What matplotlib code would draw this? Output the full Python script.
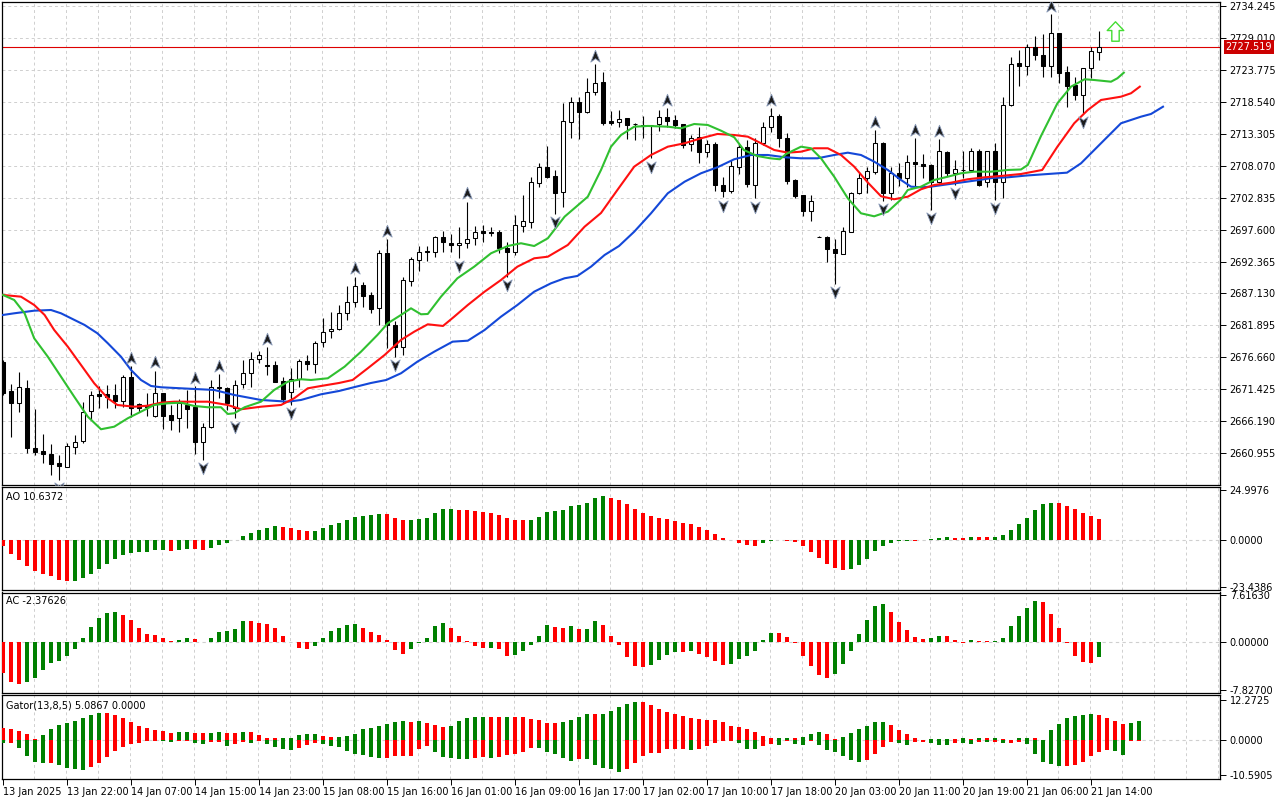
import matplotlib
matplotlib.use('Agg')
import matplotlib.pyplot as plt
import matplotlib.transforms as mtransforms
from matplotlib.path import Path
import numpy as np

plt.rcParams['font.family'] = ['DejaVu Sans']
plt.rcParams['font.size'] = 7

# H1 candles, 13 Jan 2025 .. 21 Jan 2025
opens = [2675.97, 2671.18, 2669.17, 2671.72, 2661.9, 2661.36, 2660.85, 2659.4, 2658.8, 2661.96,
         2663.05, 2667.96, 2670.64, 2670.7, 2670.5, 2669.6, 2673.5, 2669.0, 2668.8, 2667.1,
         2670.8, 2667.25, 2666.7, 2668.9, 2668.6, 2662.9, 2665.24, 2671.8, 2671.6, 2668.35,
         2672.3, 2674.2, 2676.37, 2675.45, 2675.4, 2672.8, 2670.97, 2673.15, 2676.1, 2675.55,
         2679.15, 2680.99, 2681.27, 2683.9, 2685.8, 2688.5, 2686.9, 2684.7, 2693.7, 2681.97,
         2678.4, 2689.2, 2692.6, 2694.13, 2693.97, 2696.3, 2695.44, 2695.07, 2695.34, 2696.15,
         2697.35, 2697.2, 2697.2, 2694.5, 2693.97, 2698.2, 2698.88, 2705.26, 2707.76, 2706.35,
         2703.7, 2715.24, 2718.46, 2716.87, 2720.14, 2721.78, 2715.35, 2715.24, 2715.8, 2714.86,
         2714.6, 2714.7, 2714.86, 2715.95, 2715.5, 2714.86, 2711.54, 2712.68, 2710.33, 2711.59,
         2704.83, 2703.95, 2707.88, 2711.05, 2704.88, 2711.7, 2714.3, 2716.17, 2712.52, 2705.7,
         2703.25, 2700.68, 2696.45, 2696.42, 2694.4, 2693.6, 2697.24, 2703.51, 2705.98, 2707.05,
         2711.8, 2703.51, 2706.9, 2705.98, 2708.7, 2708.32, 2708.15, 2705.42, 2710.33, 2706.9,
         2707.33, 2707.33, 2710.49, 2705.42, 2710.44, 2705.42, 2717.92, 2724.79, 2724.35, 2727.41,
         2726.1, 2724.35, 2729.7, 2723.42, 2721.24, 2719.6, 2723.97, 2726.69]
highs = [2676.3, 2672.28, 2674.3, 2672.98, 2668.2, 2664.1, 2662.5, 2660.7, 2662.6, 2664.0,
         2669.4, 2671.2, 2672.0, 2672.1, 2672.3, 2673.8, 2675.2, 2669.2, 2670.9, 2674.5,
         2670.85, 2668.9, 2669.8, 2671.3, 2672.0, 2665.9, 2672.9, 2673.95, 2671.8, 2672.95,
         2676.25, 2677.6, 2677.8, 2678.3, 2676.1, 2673.5, 2674.9, 2676.4, 2677.0, 2679.4,
         2683.2, 2684.16, 2685.25, 2688.4, 2689.9, 2689.05, 2687.45, 2694.25, 2695.99, 2682.6,
         2689.8, 2693.05, 2694.9, 2694.95, 2696.5, 2697.35, 2696.8, 2698.06, 2702.15, 2698.17,
         2698.34, 2698.06, 2697.5, 2695.6, 2699.97, 2703.25, 2706.2, 2708.4, 2711.26, 2707.3,
         2718.25, 2719.33, 2719.33, 2722.34, 2724.63, 2723.3, 2717.0, 2717.15, 2715.8, 2715.07,
         2716.2, 2714.75, 2717.15, 2717.43, 2716.33, 2714.9, 2713.06, 2714.4, 2712.24, 2711.96,
         2706.14, 2708.97, 2711.59, 2712.24, 2712.52, 2715.14, 2717.43, 2716.5, 2713.43, 2705.8,
         2703.25, 2703.25, 2696.5, 2696.53, 2695.99, 2697.96, 2703.78, 2706.8, 2707.78, 2713.88,
         2711.96, 2707.78, 2708.43, 2709.79, 2712.52, 2709.95, 2708.32, 2712.35, 2710.44, 2708.97,
         2710.44, 2710.88, 2710.72, 2710.44, 2711.7, 2719.33, 2725.87, 2726.97, 2727.9, 2729.26,
         2729.53, 2732.81, 2729.7, 2724.35, 2722.6, 2723.97, 2727.41, 2730.07]
lows = [2670.5, 2663.71, 2667.75, 2661.0, 2660.7, 2659.35, 2657.4, 2656.6, 2658.7, 2660.8,
        2662.6, 2666.4, 2668.4, 2668.35, 2668.4, 2668.6, 2666.97, 2667.8, 2667.1, 2666.97,
        2664.9, 2664.8, 2664.5, 2665.1, 2660.9, 2659.9, 2665.1, 2670.0, 2668.1, 2666.7,
        2671.6, 2671.8, 2675.7, 2673.8, 2672.6, 2669.17, 2668.9, 2671.9, 2674.6, 2674.1,
        2678.4, 2679.8, 2681.2, 2682.8, 2684.9, 2684.97, 2684.0, 2681.97, 2678.17, 2676.8,
        2677.05, 2688.4, 2690.85, 2692.5, 2693.15, 2693.87, 2693.87, 2692.9, 2694.5, 2695.07,
        2695.6, 2696.5, 2693.7, 2689.9, 2693.4, 2697.14, 2697.8, 2704.6, 2705.97, 2700.1,
        2701.2, 2712.52, 2712.4, 2716.6, 2719.6, 2714.7, 2714.7, 2714.3, 2712.35, 2712.24,
        2712.5, 2709.25, 2713.76, 2714.4, 2714.16, 2710.88, 2710.5, 2708.53, 2709.4, 2703.95,
        2702.87, 2703.62, 2706.68, 2704.5, 2702.7, 2711.43, 2713.5, 2711.15, 2705.03, 2702.7,
        2699.86, 2698.99, 2696.3, 2692.33, 2688.68, 2693.6, 2697.24, 2703.4, 2703.51, 2706.68,
        2702.3, 2702.5, 2704.72, 2704.6, 2704.6, 2705.98, 2700.79, 2705.15, 2706.35, 2704.88,
        2705.98, 2707.05, 2704.77, 2704.6, 2702.43, 2702.7, 2717.8, 2721.08, 2722.9, 2725.33,
        2722.6, 2722.6, 2721.52, 2717.7, 2718.8, 2716.6, 2722.34, 2725.33]
closes = [2670.85, 2669.17, 2671.8, 2661.8, 2661.25, 2660.8, 2659.2, 2658.9, 2662.2, 2662.78,
          2667.7, 2670.5, 2670.4, 2670.25, 2669.6, 2673.4, 2668.35, 2668.45, 2668.5, 2670.8,
          2667.1, 2666.45, 2669.17, 2668.2, 2662.9, 2665.35, 2671.8, 2671.6, 2669.17, 2672.15,
          2674.2, 2676.37, 2677.0, 2675.35, 2672.7, 2669.9, 2673.15, 2676.1, 2675.55, 2679.1,
          2680.78, 2681.3, 2683.9, 2685.8, 2688.4, 2686.8, 2684.55, 2693.7, 2681.97, 2678.4,
          2689.35, 2692.77, 2693.87, 2693.87, 2696.3, 2695.5, 2695.07, 2695.44, 2696.05, 2697.24,
          2696.98, 2696.98, 2694.5, 2693.97, 2698.34, 2698.99, 2705.3, 2707.76, 2706.24, 2703.6,
          2715.35, 2718.41, 2716.77, 2720.14, 2721.62, 2715.07, 2715.07, 2715.73, 2714.7, 2714.8,
          2714.62, 2714.65, 2715.95, 2715.4, 2714.7, 2711.4, 2712.52, 2710.33, 2711.54, 2704.88,
          2703.95, 2707.99, 2711.05, 2705.03, 2711.7, 2714.3, 2716.17, 2712.52, 2705.58, 2703.13,
          2700.68, 2702.3, 2696.4, 2694.35, 2693.7, 2697.4, 2703.5, 2705.98, 2707.2, 2711.7,
          2703.5, 2706.9, 2705.98, 2708.7, 2708.32, 2708.04, 2705.42, 2710.44, 2706.79, 2707.45,
          2707.35, 2710.44, 2704.88, 2710.44, 2705.42, 2717.97, 2724.68, 2724.35, 2727.41, 2726.1,
          2724.35, 2729.7, 2723.25, 2721.13, 2719.6, 2723.97, 2726.8, 2727.519]

# Alligator lines (bar position, price)
jawX = [0, 1.4, 3.9, 6, 7.25, 8.5, 10.2, 11.8, 13.1, 14.75, 16, 17.25, 18.5, 19.75, 23.9, 26.4,
        28.9, 32.25, 35.6, 37.25, 39.75, 42, 44, 46, 47.9, 49.75, 51.8, 53.9, 56.2, 58.1, 60.2,
        62.25, 64.3, 66.4, 68.5, 70.2, 71.8, 73.5, 75.2, 77, 78.9, 81, 83.1, 85.2, 87.25, 89.3,
        91.4, 93.5, 95.6, 97.7, 99.75, 101.8, 103.9, 105.6, 107.25, 108.9, 110.6, 112.25, 113.5,
        114.75, 116, 118.1, 119.75, 121.4, 123.7, 125.6, 128, 133, 134.75, 137.25, 139.75,
        142.25, 143.5, 145]
jawY = [2683.62, 2683.89, 2684.32, 2684.43, 2683.89, 2683.08, 2681.98, 2680.62, 2678.99, 2676.79,
        2674.62, 2672.98, 2672.0, 2671.79, 2671.51, 2671.35, 2670.53, 2669.71, 2669.43, 2669.71,
        2670.64, 2671.18, 2671.84, 2672.49, 2672.98, 2674.08, 2675.98, 2677.61, 2679.25, 2679.41,
        2681.16, 2683.34, 2685.25, 2687.43, 2688.8, 2689.62, 2690.0, 2691.52, 2693.43, 2694.9,
        2697.24, 2700.25, 2703.53, 2705.42, 2706.8, 2707.78, 2709.09, 2709.79, 2709.79, 2709.42,
        2709.25, 2709.25, 2709.79, 2710.17, 2709.79, 2708.7, 2707.34, 2705.7, 2704.61, 2704.51,
        2704.61, 2705.0, 2705.29, 2705.59, 2706.03, 2706.14, 2706.44, 2706.9, 2708.43, 2711.71,
        2714.98, 2716.06, 2716.5, 2717.69]
teethX = [0, 2.25, 3.9, 5.2, 6.4, 8.1, 9.75, 11.4, 13.1, 14.3, 16.4, 18.1, 19.75, 21.4, 25.6,
          28.1, 29.75, 32.25, 34.75, 36.4, 38.1, 39.75, 42, 43.7, 45.6, 47.7, 49.75, 51.4, 53.1,
          55, 56.4, 58.1, 60.2, 62.25, 64.3, 66.4, 68.1, 70.6, 72.7, 74.75, 76.8, 78.9, 81, 83.1,
          85.2, 87.25, 89.3, 91.4, 93.1, 94.75, 96.4, 98.1, 99.75, 101.4, 103.1, 104.75, 106.4,
          108.1, 109.75, 111.4, 113.1, 114.75, 116.4, 118.5, 120.6, 122.7, 124.75, 127.25, 129.9,
          131.8, 133.9, 135.6, 137.25, 139.75, 141, 142.1]
teethY = [2686.89, 2686.61, 2685.25, 2683.62, 2681.16, 2678.43, 2675.44, 2672.44, 2669.99, 2668.89,
          2668.61, 2668.78, 2669.27, 2669.43, 2669.43, 2668.89, 2668.19, 2668.61, 2668.89, 2669.99,
          2671.62, 2672.0, 2672.49, 2672.98, 2674.9, 2677.07, 2679.53, 2680.88, 2682.09, 2681.82,
          2683.34, 2685.25, 2687.43, 2689.34, 2691.52, 2692.89, 2693.15, 2695.07, 2698.06, 2700.3,
          2704.07, 2707.88, 2709.79, 2711.15, 2711.71, 2712.52, 2713.23, 2713.06, 2712.79, 2711.71,
          2710.61, 2710.17, 2710.33, 2710.89, 2710.89, 2709.79, 2707.88, 2705.29, 2703.04, 2702.55,
          2702.97, 2704.18, 2704.88, 2705.26, 2705.82, 2706.14, 2706.36, 2706.68, 2707.34, 2711.15,
          2714.98, 2717.15, 2718.79, 2719.33, 2719.89, 2720.97]
lipsX = [0, 1.4, 2.7, 3.9, 5.6, 7.25, 8.9, 10.6, 12.25, 13.9, 15.6, 17.25, 18.9, 20.6, 22.25,
         23.9, 25.6, 27.25, 28.1, 28.9, 30.2, 32.25, 33.9, 35.6, 37.25, 38.5, 40.6, 42.7, 44.75,
         46.8, 48.1, 49.75, 51, 52.25, 53.1, 54.75, 56.8, 58.9, 61, 63.1, 64.75, 66.4, 68.1, 70.2,
         71.8, 73.1, 74.75, 76, 77.25, 78.9, 80.6, 83.1, 84.75, 86.4, 88.1, 89.75, 91.4, 92.6,
         94.25, 95.9, 97.1, 97.9, 99.75, 101, 102.25, 103.9, 105.6, 107.25, 108.9, 110.6, 112.25,
         113.1, 114.75, 116.4, 118.1, 119.75, 121.4, 123.5, 125.6, 127.25, 128.1, 129.75, 131.8,
         133.5, 135.2, 136.4, 138.5, 139.3, 140.1]
lipsY = [2686.89, 2686.07, 2683.89, 2679.8, 2676.79, 2673.52, 2670.25, 2666.98, 2664.92, 2665.34,
         2666.72, 2667.8, 2668.89, 2669.17, 2669.27, 2668.73, 2668.52, 2668.52, 2667.42, 2667.53,
         2668.52, 2669.43, 2671.35, 2672.7, 2673.1, 2672.98, 2673.26, 2675.16, 2677.61, 2680.34,
         2682.26, 2683.62, 2684.71, 2683.73, 2683.78, 2686.61, 2689.62, 2691.52, 2693.71, 2694.9,
         2695.35, 2694.9, 2696.16, 2699.7, 2701.5, 2702.97, 2707.34, 2711.15, 2713.06, 2714.42,
         2714.54, 2714.42, 2714.16, 2714.86, 2714.7, 2713.77, 2712.69, 2710.61, 2709.63, 2709.25,
         2709.09, 2709.96, 2711.15, 2710.89, 2709.25, 2706.24, 2702.71, 2700.25, 2699.76, 2700.52,
         2702.51, 2704.07, 2704.61, 2705.7, 2706.24, 2706.8, 2707.06, 2707.06, 2707.34, 2707.42,
         2708.16, 2712.9, 2718.25, 2720.97, 2722.18, 2722.06, 2721.78, 2722.34, 2723.26]

fractalUp = [16, 19, 24, 27, 33, 44, 48, 58, 74, 83, 96, 109, 114, 117, 131]
fractalDown = [7, 25, 29, 36, 49, 57, 63, 69, 81, 90, 94, 104, 110, 116, 119, 124, 135]
signalBar = 139
signalPrice = 2730.1
bidPrice = 2727.519

ao = [-2.65, -6.8, -9.8, -12.8, -15.3, -16.75, -17.7, -19.7, -20.2, -20.1,
      -18.7, -16.75, -14.3, -11.8, -9.3, -7.3, -6.1, -5.8, -5.6, -4.8,
      -4.7, -5.3, -4.8, -4.3, -4.5, -4.8, -3.8, -2.2, -1.2, 0.2,
      2.2, 3.8, 5.1, 6.0, 7.1, 6.6, 6.0, 5.1, 4.6, 4.8,
      6.1, 7.6, 8.6, 10.1, 11.6, 12.1, 12.6, 13.1, 13.0, 11.1,
      9.9, 10.1, 10.6, 11.1, 13.6, 15.6, 15.7, 15.1, 15.0, 14.6,
      14.3, 13.6, 12.8, 11.1, 10.1, 10.0, 10.15, 11.6, 14.1, 14.6,
      15.1, 17.1, 17.6, 18.6, 21.1, 22.1, 21.1, 20.1, 18.1, 15.6,
      13.6, 12.1, 11.1, 10.6, 9.6, 8.6, 8.1, 6.6, 5.1, 3.15,
      1.2, 0.15, -1.3, -2.2, -2.65, -1.2, -0.2, 0.1, -0.3, -0.7,
      -2.65, -5.6, -8.6, -11.6, -13.6, -14.6, -14.1, -12.1, -9.1, -5.1,
      -2.65, -1.2, -0.5, -0.2, -0.25, 0.1, 0.5, 1.0, 1.5, 1.0,
      0.95, 1.5, 1.45, 1.4, 1.6, 2.65, 5.1, 8.1, 11.1, 15.1,
      18.1, 18.6, 18.55, 17.1, 15.6, 13.6, 12.1, 10.64]
ac = [-4.97, -6.43, -6.8, -6.43, -5.78, -4.54, -3.35, -3.08, -2.2, -1.08,
      0.65, 2.49, 3.9, 4.65, 4.86, 4.38, 3.57, 2.27, 1.3, 1.14,
      0.65, 0.16, 0.32, 0.65, 0.43, 0.02, 0.65, 1.62, 1.78, 2.1,
      3.4, 3.38, 3.08, 2.92, 2.27, 0.97, -0.02, -0.97, -1.08, -0.65,
      0.65, 1.78, 2.27, 2.76, 2.92, 2.27, 1.62, 1.14, 0.32, -1.3,
      -1.95, -1.1, -0.2, 0.65, 2.6, 3.08, 2.27, 0.97, 0.1, -0.65,
      -0.92, -0.9, -1.14, -2.2, -2.1, -1.46, -0.43, 0.97, 2.76, 2.43,
      2.27, 2.6, 2.1, 2.12, 3.4, 2.76, 0.97, -0.43, -2.38, -3.9,
      -4.05, -3.73, -2.92, -2.1, -1.62, -1.64, -1.46, -1.95, -2.43, -3.08,
      -3.73, -3.5, -2.76, -2.27, -1.46, 0.32, 1.46, 1.44, 0.81, -0.2,
      -2.27, -3.9, -5.35, -5.8, -5.14, -3.51, -1.41, 1.3, 3.57, 5.84,
      6.16, 4.86, 3.24, 1.95, 0.81, 0.49, 0.65, 0.97, 0.96, 0.32,
      -0.1, 0.32, 0.16, 0.15, 0.17, 0.65, 2.6, 4.22, 5.51, 6.65,
      6.49, 4.54, 2.27, -0.2, -2.2, -3.19, -3.35, -2.38]
gatorUp = [3.68, 3.37, 2.76, 1.84, 0.3, 1.53, 3.37, 4.6, 5.21, 5.83,
           6.75, 7.67, 8.28, 8.27, 7.77, 6.75, 5.52, 4.29, 3.68, 3.07,
           2.76, 2.15, 2.45, 2.46, 2.15, 2.14, 2.16, 2.45, 2.15, 2.14,
           2.45, 2.44, 1.53, 0.61, 0.6, 0.61, 0.62, 1.53, 1.84, 1.85,
           1.23, 0.92, 0.93, 1.23, 1.84, 3.37, 3.68, 4.29, 4.91, 5.52,
           5.83, 5.52, 5.83, 5.42, 4.6, 3.99, 4.29, 5.83, 6.75, 7.06,
           7.07, 7.05, 7.04, 7.06, 7.05, 7.04, 6.44, 6.13, 5.21, 5.2,
           5.52, 6.13, 7.06, 7.98, 7.97, 7.99, 8.9, 10.12, 11.04, 11.66,
           11.65, 10.74, 9.51, 8.59, 7.98, 7.36, 6.75, 6.44, 6.13, 6.12,
           5.52, 4.29, 3.99, 3.37, 2.45, 1.23, 0.61, 0.62, 0.63, 0.62,
           0.92, 1.84, 2.45, 1.94, 0.41, 1.0, 2.25, 3.48, 4.4, 5.62,
           5.65, 4.7, 3.17, 1.94, 0.72, 0.2, 0.4, 0.45, 0.5, 0.41,
           0.72, 0.41, 0.8, 0.6, 0.75, 0.4, 0.2, 0.7, 0.72, 0.7,
           0.05, 3.17, 5.0, 6.85, 7.46, 7.77, 8.08, 7.77, 6.85, 5.93,
           5.0, 5.32, 5.93]
gatorDown = [-0.82, -0.82, -2.25, -4.8, -6.65, -7.06, -7.05, -7.67, -8.49, -8.9,
             -9.2, -8.18, -7.06, -5.11, -3.27, -2.04, -1.23, -0.92, -0.31, -0.2,
             -0.3, -0.5, -0.2, -0.19, -0.82, -1.12, -0.5, -0.49, -1.74, -1.12,
             -0.5, -0.82, -0.2, -1.12, -2.04, -2.66, -2.97, -2.35, -1.43, -0.82,
             -1.12, -1.74, -2.04, -3.27, -4.19, -4.5, -5.11, -5.42, -5.41, -4.8,
             -4.79, -4.78, -2.66, -1.74, -3.58, -5.11, -5.42, -5.73, -5.74, -5.42,
             -5.11, -5.42, -5.11, -4.5, -4.19, -3.58, -2.35, -2.36, -3.58, -4.19,
             -5.42, -6.34, -5.73, -5.74, -7.57, -8.49, -8.79, -9.71, -8.79, -6.95,
             -4.81, -3.89, -3.88, -2.66, -2.65, -2.64, -2.97, -2.66, -1.74, -0.82,
             -0.3, -0.2, -0.82, -2.66, -2.67, -1.74, -1.12, -1.43, -0.2, -1.12,
             -1.43, -0.2, -1.43, -2.86, -3.48, -4.7, -5.93, -6.54, -5.93, -4.09,
             -1.94, -0.41, -0.82, -1.33, -0.4, -0.39, -0.8, -1.33, -1.34, -0.7,
             -0.9, -1.0, -0.5, -0.6, -0.6, -0.7, -0.69, -0.4, -1.0, -4.1,
             -6.6, -7.2, -7.8, -7.77, -7.5, -6.54, -4.7, -3.48, -2.86, -3.17,
             -4.4, -0.15, -0.1]

priceTicks = [2734.245, 2729.010, 2723.775, 2718.540, 2713.305, 2708.070, 2702.835, 2697.600,
              2692.365, 2687.130, 2681.895, 2676.660, 2671.425, 2666.190, 2660.955]
dateBars = [0, 8, 16, 24, 32, 40, 48, 56, 64, 72, 80, 88, 96, 104, 112, 120, 128, 136]
dateLabels = ['13 Jan 2025', '13 Jan 22:00', '14 Jan 07:00', '14 Jan 15:00', '14 Jan 23:00',
              '15 Jan 08:00', '15 Jan 16:00', '16 Jan 01:00', '16 Jan 09:00', '16 Jan 17:00',
              '17 Jan 02:00', '17 Jan 10:00', '17 Jan 18:00', '20 Jan 03:00', '20 Jan 11:00',
              '20 Jan 19:00', '21 Jan 06:00', '21 Jan 14:00']

GREEN = '#008000'
RED = '#ff0000'
GRID = '#cfcfcf'
W, H = 1280, 800


# rectangle in figure pixels (top-left origin) -> add_axes rect
def pxRect(x0, y0, x1, y1):
    return [x0 / W, 1 - y1 / H, (x1 - x0) / W, (y1 - y0) / H]


def styleAxes(ax, ylim, yticks, ylabels):
    ax.set_xlim(-0.125, 152.125)
    ax.set_ylim(*ylim)
    for s in ax.spines.values():
        s.set_linewidth(0.9)
        s.set_color('black')
    ax.yaxis.tick_right()
    ax.set_yticks(yticks)
    ax.set_yticklabels(ylabels)
    ax.tick_params(axis='y', length=4, width=0.7, pad=3, labelsize=7)
    ax.set_xticks([])
    for k in range(1, 39):
        ax.axvline(4 * k - 0.125, color=GRID, lw=0.7, ls=(0, (3, 3)), zorder=0)


# MT4 histogram colouring: green when the bar grows, red otherwise
def barColors(vals, first, useAbs=False):
    v = np.abs(vals) if useAbs else np.asarray(vals)
    cols = [first]
    for i in range(1, len(v)):
        cols.append(GREEN if v[i] > v[i - 1] else RED)
    return cols


fig = plt.figure(figsize=(12.8, 8), dpi=100)
axMain = fig.add_axes(pxRect(2, 2, 1220, 485))
axAO = fig.add_axes(pxRect(2, 487, 1220, 590))
axAC = fig.add_axes(pxRect(2, 592.5, 1220, 692.5))
axG = fig.add_axes(pxRect(2, 695, 1220, 779))

# ---- main price panel
styleAxes(axMain, (2655.80, 2734.82), priceTicks, ['%.3f' % p for p in priceTicks])
for p in priceTicks:
    axMain.axhline(p, color=GRID, lw=0.7, ls=(0, (3, 3)), zorder=0)

idx = np.arange(len(opens))
o = np.array(opens)
c = np.array(closes)
axMain.vlines(idx, lows, highs, color='black', lw=0.8, zorder=3)
bodyFill = ['white' if c[i] >= o[i] else 'black' for i in idx]
axMain.bar(idx, np.abs(c - o), bottom=np.minimum(o, c), width=0.62, color=bodyFill,
           edgecolor='black', linewidth=0.75, zorder=4)

axMain.plot(jawX, jawY, color='#1448d8', lw=1.5, zorder=5)
axMain.plot(teethX, teethY, color='#ff1010', lw=1.5, zorder=5)
axMain.plot(lipsX, lipsY, color='#30c030', lw=1.5, zorder=5)

upShape = Path([(0, 1), (0.75, -0.9), (0, -0.35), (-0.75, -0.9), (0, 1)],
               [Path.MOVETO, Path.LINETO, Path.LINETO, Path.LINETO, Path.CLOSEPOLY])
downShape = Path([(0, -1), (0.75, 0.9), (0, 0.35), (-0.75, 0.9), (0, -1)],
                 [Path.MOVETO, Path.LINETO, Path.LINETO, Path.LINETO, Path.CLOSEPOLY])
axMain.plot(fractalUp, [highs[i] + 1.35 for i in fractalUp], ls='none', marker=upShape,
            ms=9, mfc='#1c1c1c', mec='#8a9ab8', mew=0.6, zorder=6)
axMain.plot(fractalDown, [lows[i] - 1.35 for i in fractalDown], ls='none', marker=downShape,
            ms=9, mfc='#1c1c1c', mec='#8a9ab8', mew=0.6, zorder=6, clip_on=True)

arrowShape = Path([(0, 1), (0.85, 0.1), (0.38, 0.1), (0.38, -1), (-0.38, -1), (-0.38, 0.1),
                   (-0.85, 0.1), (0, 1)],
                  [Path.MOVETO] + [Path.LINETO] * 6 + [Path.CLOSEPOLY])
axMain.plot([signalBar], [signalPrice], ls='none', marker=arrowShape, ms=14,
            mfc='white', mec='#44dd33', mew=1.0, zorder=6)

axMain.axhline(bidPrice, color='#dd0000', lw=0.8, zorder=2)
trans = mtransforms.blended_transform_factory(axMain.transAxes, axMain.transData)
axMain.text(1.0045, bidPrice, '%.3f' % bidPrice, transform=trans, color='white', va='center',
            ha='left', fontsize=7, clip_on=False, zorder=10,
            bbox=dict(boxstyle='square,pad=0.2', fc='#cc0000', ec='none'))

# ---- AO
styleAxes(axAO, (-24.69, 26.48), [24.9976, 0, -23.4386], ['24.9976', '0.0000', '-23.4386'])
axAO.axhline(0, color=GRID, lw=0.8, ls=(0, (3, 3)), zorder=0)
axAO.bar(np.arange(len(ao)), ao, width=0.5, color=barColors(ao, RED), linewidth=0, zorder=3)
axAO.annotate('AO 10.6372', xy=(0, 1), xycoords='axes fraction', xytext=(4, -10),
              textcoords='offset pixels', va='center', fontsize=7)

# ---- AC
styleAxes(axAC, (-8.18, 8.02), [7.6163, 0, -7.827], ['7.61630', '0.00000', '-7.82700'])
axAC.axhline(0, color=GRID, lw=0.8, ls=(0, (3, 3)), zorder=0)
axAC.bar(np.arange(len(ac)), ac, width=0.5, color=barColors(ac, RED), linewidth=0, zorder=3)
axAC.annotate('AC -2.37626', xy=(0, 1), xycoords='axes fraction', xytext=(4, -9),
              textcoords='offset pixels', va='center', fontsize=7)

# ---- Gator
styleAxes(axG, (-11.87, 13.9), [12.2725, 0, -10.5905], ['12.2725', '0.0000', '-10.5905'])
axG.axhline(0, color=GRID, lw=0.8, ls=(0, (3, 3)), zorder=0)
axG.bar(np.arange(len(gatorUp)), gatorUp, width=0.5, color=barColors(gatorUp, RED),
        linewidth=0, zorder=3)
axG.bar(np.arange(len(gatorDown)), gatorDown, width=0.5,
        color=barColors(gatorDown, GREEN, useAbs=True), linewidth=0, zorder=3)
axG.annotate('Gator(13,8,5) 5.0867 0.0000', xy=(0, 1), xycoords='axes fraction',
             xytext=(4, -10), textcoords='offset pixels', va='center', fontsize=7)

axG.set_xticks(dateBars)
axG.set_xticklabels(dateLabels, ha='left')
axG.tick_params(axis='x', length=4, width=0.7, pad=2, labelsize=7)

fig.savefig('out.png', dpi=100, facecolor='white')
